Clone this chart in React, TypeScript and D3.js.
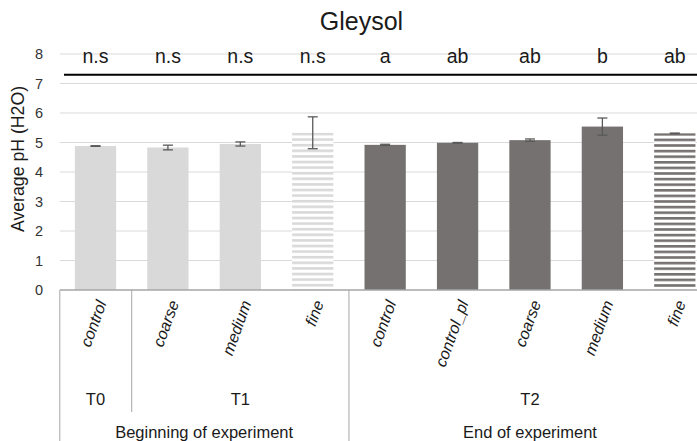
import React from "react";
import * as d3 from "d3";

const categories = ["control", "coarse", "medium", "fine", "control", "control_pl", "coarse", "medium", "fine"];
const means = [4.88, 4.83, 4.95, 5.33, 4.92, 4.99, 5.08, 5.54, 5.31];
const errors = [0.01, 0.08, 0.07, 0.54, 0.02, 0.01, 0.04, 0.29, 0.01];
const letters = ["n.s", "n.s", "n.s", "n.s", "a", "ab", "ab", "b", "ab"];
const phase = ["T1", "T1", "T1", "T1", "T2", "T2", "T2", "T2", "T2"];
const striped = [false, false, false, true, false, false, false, false, true];
const timeGroups = [
  { label: "T0", start: 0, end: 1 },
  { label: "T1", start: 1, end: 4 },
  { label: "T2", start: 4, end: 9 },
];
const stageGroups = [
  { label: "Beginning of experiment", start: 0, end: 4 },
  { label: "End of experiment", start: 4, end: 9 },
];
const yTicks = [0, 1, 2, 3, 4, 5, 6, 7, 8];
const lineLevel = 7.3;

const W = 697;
const H = 441;
const LIGHT = "#d9d9d9";
const DARK = "#767171";
const FONT = "'Liberation Sans', Arial, sans-serif";

export default function App() {
  const x0 = 59.3;
  const x1 = 711;
  const y = d3.scaleLinear().domain([0, 8]).range([290, 54]);
  const x = d3
    .scaleBand<number>()
    .domain(d3.range(categories.length))
    .range([x0, x1])
    .paddingInner(0.43)
    .paddingOuter(0.215);
  const slot = d3.scaleLinear().domain([0, categories.length]).range([x0, x1]);
  const cx = (i: number) => (x(i) as number) + x.bandwidth() / 2;
  const fillFor = (i: number) => {
    const base = phase[i] === "T1" ? "light" : "dark";
    if (striped[i]) return `url(#stripe-${base})`;
    return base === "light" ? LIGHT : DARK;
  };

  return (
    <svg
      width={W}
      height={H}
      style={{ position: "absolute", left: 0, top: 0, background: "#fff" }}
      fontFamily={FONT}
    >
      <defs>
        <pattern id="stripe-light" patternUnits="userSpaceOnUse" width={10} height={5.6} y={132.7}>
          <rect width={10} height={5.6} fill="#fff" />
          <rect width={10} height={2.6} fill={LIGHT} />
        </pattern>
        <pattern id="stripe-dark" patternUnits="userSpaceOnUse" width={10} height={5.6} y={133}>
          <rect width={10} height={5.6} fill="#fff" />
          <rect width={10} height={2.6} fill={DARK} />
        </pattern>
      </defs>
      <rect width={W} height={H} fill="#fff" />

      {/* title */}
      <text x={361.5} y={30} textAnchor="middle" fontSize={25} fill="#1a1a1a">
        Gleysol
      </text>

      {/* gridlines */}
      {yTicks.filter((t) => t > 0).map((t) => (
        <line key={t} x1={60} x2={W} y1={y(t)} y2={y(t)} stroke="#d9d9d9" strokeWidth={1} />
      ))}

      {/* y tick labels */}
      {yTicks.map((t) => (
        <text key={t} x={43} y={y(t)} dy="0.36em" textAnchor="end" fontSize={14.5} fill="#333">
          {t}
        </text>
      ))}

      {/* y axis title */}
      <text
        transform={`translate(24,159) rotate(-90)`}
        textAnchor="middle"
        fontSize={17.7}
        fill="#1a1a1a"
      >
        Average pH (H2O)
      </text>

      {/* bars */}
      {means.map((m, i) => (
        <rect
          key={i}
          x={x(i)}
          y={y(m)}
          width={x.bandwidth()}
          height={y(0) - y(m)}
          fill={fillFor(i)}
        />
      ))}

      {/* error bars */}
      {means.map((m, i) => {
        const c = cx(i);
        const t = y(m + errors[i]);
        const b = y(m - errors[i]);
        return (
          <g key={i} stroke="#595959" strokeWidth={1.3}>
            <line x1={c} x2={c} y1={t} y2={b} />
            <line x1={c - 5} x2={c + 5} y1={t} y2={t} />
            <line x1={c - 5} x2={c + 5} y1={b} y2={b} />
          </g>
        );
      })}

      {/* significance line and letters */}
      <line x1={64} x2={W} y1={y(lineLevel)} y2={y(lineLevel)} stroke="#000" strokeWidth={2} />
      {letters.map((l, i) => (
        <text key={i} x={cx(i)} y={63} textAnchor="middle" fontSize={19.5} fill="#1a1a1a">
          {l}
        </text>
      ))}

      {/* x axis */}
      <line x1={60} x2={W} y1={y(0)} y2={y(0)} stroke="#a6a6a6" strokeWidth={1.3} />
      <line x1={slot(0) + 0.5} x2={slot(0) + 0.5} y1={y(0)} y2={H} stroke="#a6a6a6" strokeWidth={1} />
      <line x1={slot(1)} x2={slot(1)} y1={y(0)} y2={412} stroke="#a6a6a6" strokeWidth={1} />
      <line x1={slot(4)} x2={slot(4)} y1={y(0)} y2={H} stroke="#a6a6a6" strokeWidth={1} />

      {/* category labels */}
      {categories.map((c, i) => (
        <text
          key={i}
          transform={`translate(${cx(i) + 6},${301}) rotate(-70)`}
          textAnchor="end"
          dy="0.35em"
          fontSize={16}
          fontStyle="italic"
          fill="#1a1a1a"
        >
          {c}
        </text>
      ))}

      {/* time groups */}
      {timeGroups.map((g) => (
        <text
          key={g.label}
          x={(slot(g.start) + slot(g.end)) / 2}
          y={405}
          textAnchor="middle"
          fontSize={16.5}
          fill="#1a1a1a"
        >
          {g.label}
        </text>
      ))}

      {/* stage groups */}
      {stageGroups.map((g) => (
        <text
          key={g.label}
          x={(slot(g.start) + slot(g.end)) / 2}
          y={438}
          textAnchor="middle"
          fontSize={16.5}
          fill="#1a1a1a"
        >
          {g.label}
        </text>
      ))}
    </svg>
  );
}
